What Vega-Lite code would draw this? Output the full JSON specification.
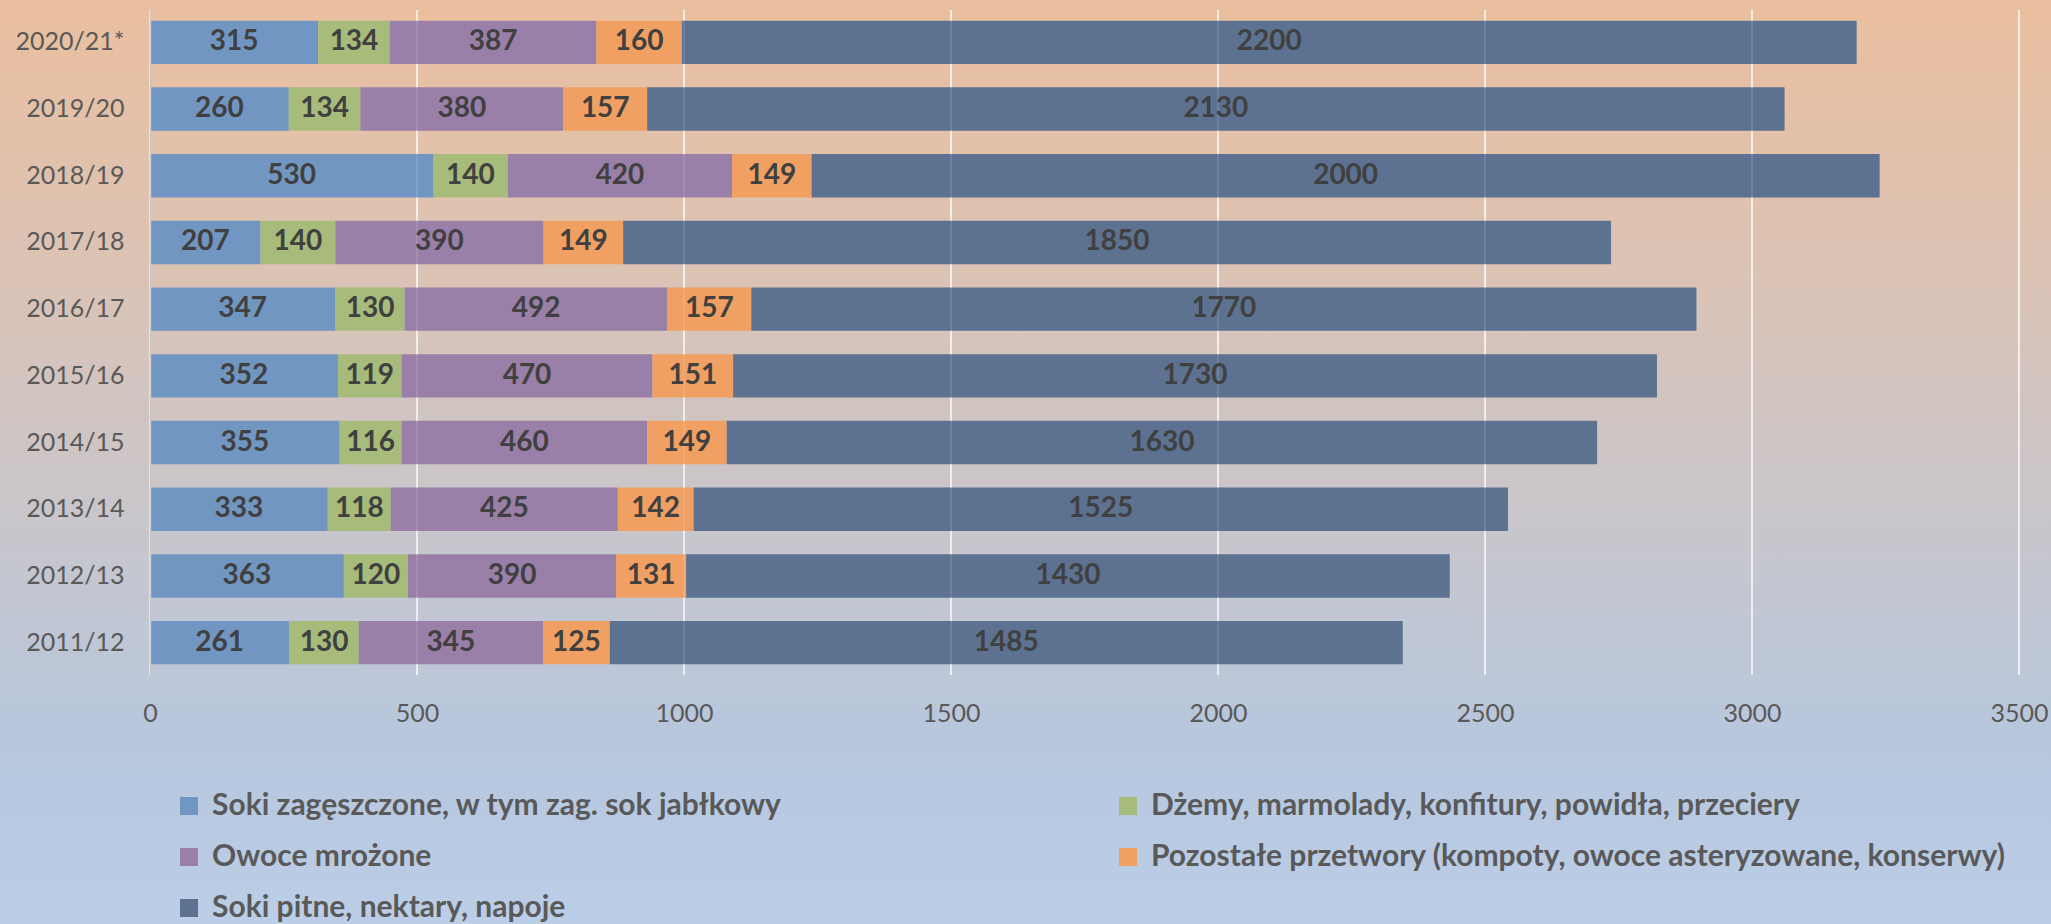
{
  "$schema": "https://vega.github.io/schema/vega-lite/v6.json",
  "width": 1869,
  "height": 665,
  "autosize": {"type": "none"},
  "padding": {"left": 150, "top": 10, "right": 32, "bottom": 249},
  "background": "#c9c6cb",
  "config": {"view": {"stroke": null}, "font": "Lato"},
  "datasets": {
    "bg": [{"a": 1}],
    "grid": [{"g": 0}, {"g": 500}, {"g": 1000}, {"g": 1500}, {"g": 2000}, {"g": 2500}, {"g": 3000}, {"g": 3500}],
    "vals": [
      {"rok": "2020/21*", "k": 1, "seria": "Soki zagęszczone, w tym zag. sok jabłkowy", "v": 315},
      {"rok": "2020/21*", "k": 2, "seria": "Dżemy, marmolady, konfitury, powidła, przeciery", "v": 134},
      {"rok": "2020/21*", "k": 3, "seria": "Owoce mrożone", "v": 387},
      {"rok": "2020/21*", "k": 4, "seria": "Pozostałe przetwory (kompoty, owoce asteryzowane, konserwy)", "v": 160},
      {"rok": "2020/21*", "k": 5, "seria": "Soki pitne, nektary, napoje", "v": 2200},
      {"rok": "2019/20", "k": 1, "seria": "Soki zagęszczone, w tym zag. sok jabłkowy", "v": 260},
      {"rok": "2019/20", "k": 2, "seria": "Dżemy, marmolady, konfitury, powidła, przeciery", "v": 134},
      {"rok": "2019/20", "k": 3, "seria": "Owoce mrożone", "v": 380},
      {"rok": "2019/20", "k": 4, "seria": "Pozostałe przetwory (kompoty, owoce asteryzowane, konserwy)", "v": 157},
      {"rok": "2019/20", "k": 5, "seria": "Soki pitne, nektary, napoje", "v": 2130},
      {"rok": "2018/19", "k": 1, "seria": "Soki zagęszczone, w tym zag. sok jabłkowy", "v": 530},
      {"rok": "2018/19", "k": 2, "seria": "Dżemy, marmolady, konfitury, powidła, przeciery", "v": 140},
      {"rok": "2018/19", "k": 3, "seria": "Owoce mrożone", "v": 420},
      {"rok": "2018/19", "k": 4, "seria": "Pozostałe przetwory (kompoty, owoce asteryzowane, konserwy)", "v": 149},
      {"rok": "2018/19", "k": 5, "seria": "Soki pitne, nektary, napoje", "v": 2000},
      {"rok": "2017/18", "k": 1, "seria": "Soki zagęszczone, w tym zag. sok jabłkowy", "v": 207},
      {"rok": "2017/18", "k": 2, "seria": "Dżemy, marmolady, konfitury, powidła, przeciery", "v": 140},
      {"rok": "2017/18", "k": 3, "seria": "Owoce mrożone", "v": 390},
      {"rok": "2017/18", "k": 4, "seria": "Pozostałe przetwory (kompoty, owoce asteryzowane, konserwy)", "v": 149},
      {"rok": "2017/18", "k": 5, "seria": "Soki pitne, nektary, napoje", "v": 1850},
      {"rok": "2016/17", "k": 1, "seria": "Soki zagęszczone, w tym zag. sok jabłkowy", "v": 347},
      {"rok": "2016/17", "k": 2, "seria": "Dżemy, marmolady, konfitury, powidła, przeciery", "v": 130},
      {"rok": "2016/17", "k": 3, "seria": "Owoce mrożone", "v": 492},
      {"rok": "2016/17", "k": 4, "seria": "Pozostałe przetwory (kompoty, owoce asteryzowane, konserwy)", "v": 157},
      {"rok": "2016/17", "k": 5, "seria": "Soki pitne, nektary, napoje", "v": 1770},
      {"rok": "2015/16", "k": 1, "seria": "Soki zagęszczone, w tym zag. sok jabłkowy", "v": 352},
      {"rok": "2015/16", "k": 2, "seria": "Dżemy, marmolady, konfitury, powidła, przeciery", "v": 119},
      {"rok": "2015/16", "k": 3, "seria": "Owoce mrożone", "v": 470},
      {"rok": "2015/16", "k": 4, "seria": "Pozostałe przetwory (kompoty, owoce asteryzowane, konserwy)", "v": 151},
      {"rok": "2015/16", "k": 5, "seria": "Soki pitne, nektary, napoje", "v": 1730},
      {"rok": "2014/15", "k": 1, "seria": "Soki zagęszczone, w tym zag. sok jabłkowy", "v": 355},
      {"rok": "2014/15", "k": 2, "seria": "Dżemy, marmolady, konfitury, powidła, przeciery", "v": 116},
      {"rok": "2014/15", "k": 3, "seria": "Owoce mrożone", "v": 460},
      {"rok": "2014/15", "k": 4, "seria": "Pozostałe przetwory (kompoty, owoce asteryzowane, konserwy)", "v": 149},
      {"rok": "2014/15", "k": 5, "seria": "Soki pitne, nektary, napoje", "v": 1630},
      {"rok": "2013/14", "k": 1, "seria": "Soki zagęszczone, w tym zag. sok jabłkowy", "v": 333},
      {"rok": "2013/14", "k": 2, "seria": "Dżemy, marmolady, konfitury, powidła, przeciery", "v": 118},
      {"rok": "2013/14", "k": 3, "seria": "Owoce mrożone", "v": 425},
      {"rok": "2013/14", "k": 4, "seria": "Pozostałe przetwory (kompoty, owoce asteryzowane, konserwy)", "v": 142},
      {"rok": "2013/14", "k": 5, "seria": "Soki pitne, nektary, napoje", "v": 1525},
      {"rok": "2012/13", "k": 1, "seria": "Soki zagęszczone, w tym zag. sok jabłkowy", "v": 363},
      {"rok": "2012/13", "k": 2, "seria": "Dżemy, marmolady, konfitury, powidła, przeciery", "v": 120},
      {"rok": "2012/13", "k": 3, "seria": "Owoce mrożone", "v": 390},
      {"rok": "2012/13", "k": 4, "seria": "Pozostałe przetwory (kompoty, owoce asteryzowane, konserwy)", "v": 131},
      {"rok": "2012/13", "k": 5, "seria": "Soki pitne, nektary, napoje", "v": 1430},
      {"rok": "2011/12", "k": 1, "seria": "Soki zagęszczone, w tym zag. sok jabłkowy", "v": 261},
      {"rok": "2011/12", "k": 2, "seria": "Dżemy, marmolady, konfitury, powidła, przeciery", "v": 130},
      {"rok": "2011/12", "k": 3, "seria": "Owoce mrożone", "v": 345},
      {"rok": "2011/12", "k": 4, "seria": "Pozostałe przetwory (kompoty, owoce asteryzowane, konserwy)", "v": 125},
      {"rok": "2011/12", "k": 5, "seria": "Soki pitne, nektary, napoje", "v": 1485}
    ]
  },
  "resolve": {"scale": {"y": "independent"}, "axis": {"y": "independent"}},
  "layer": [
    {
      "data": {"name": "bg"},
      "mark": {
        "type": "rect",
        "fill": {
          "gradient": "linear", "x1": 0, "y1": 0, "x2": 0, "y2": 1,
          "stops": [
            {"offset": 0, "color": "#ebbf9e"},
            {"offset": 0.3, "color": "#dbc3b5"},
            {"offset": 0.55, "color": "#c9c6cb"},
            {"offset": 0.8, "color": "#b6c7de"},
            {"offset": 1, "color": "#bccfe8"}
          ]
        }
      },
      "encoding": {
        "x": {"datum": -300, "type": "quantitative", "scale": {"domain": [0, 3500], "nice": false}},
        "x2": {"datum": 3600},
        "y": {"datum": 1.03, "type": "quantitative", "scale": {"domain": [0, 1], "nice": false}, "axis": null},
        "y2": {"datum": -0.4}
      }
    },
    {
      "data": {"name": "grid"},
      "mark": {"type": "rule", "color": "#ffffff", "strokeWidth": 1.5, "opacity": 0.9},
      "encoding": {
        "x": {"field": "g", "type": "quantitative", "scale": {"domain": [0, 3500], "nice": false}}
      }
    },
    {
      "data": {"name": "vals"},
      "layer": [
        {
          "mark": {"type": "bar"},
          "encoding": {
            "y": {
              "field": "rok", "type": "nominal", "sort": null,
              "scale": {"paddingInner": 0.35, "paddingOuter": 0.16},
              "axis": {
                "title": null, "ticks": false, "domainColor": "#c8c8c8", "domainWidth": 1.5, "zindex": 1,
                "labelFont": "Lato", "labelFontSize": 25, "labelColor": "#595959", "labelPadding": 26
              }
            },
            "x": {
              "field": "v", "type": "quantitative", "stack": "zero",
              "scale": {"domain": [0, 3500], "nice": false},
              "axis": {
                "title": null, "values": [0, 500, 1000, 1500, 2000, 2500, 3000, 3500], "format": "d",
                "grid": false, "domain": false, "ticks": false, "zindex": 1,
                "labelFont": "Lato", "labelFontSize": 25, "labelColor": "#595959", "labelPadding": 26,
                "labelFlush": false
              }
            },
            "color": {
              "field": "seria", "type": "nominal",
              "scale": {
                "domain": [
                  "Soki zagęszczone, w tym zag. sok jabłkowy",
                  "Dżemy, marmolady, konfitury, powidła, przeciery",
                  "Owoce mrożone",
                  "Pozostałe przetwory (kompoty, owoce asteryzowane, konserwy)",
                  "Soki pitne, nektary, napoje"
                ],
                "range": ["#7296c2", "#a7bb7b", "#9a7fa8", "#f0a062", "#5d7190"]
              },
              "legend": {
                "title": null, "orient": "none", "legendX": 24, "legendY": 781,
                "direction": "horizontal", "columns": 2, "columnPadding": 330, "rowPadding": 21,
                "symbolType": "square", "symbolSize": 324, "symbolStrokeWidth": 0, "symbolOpacity": 1,
                "labelFont": "Lato", "labelFontSize": 30, "labelFontWeight": "bold", "labelColor": "#595959",
                "labelOffset": 8, "labelLimit": 1000
              }
            },
            "order": {"field": "k", "type": "quantitative"}
          }
        },
        {
          "data": {"name": "grid"},
          "mark": {"type": "rule", "color": "#ffffff", "strokeWidth": 1.5, "opacity": 0.15},
          "encoding": {
            "x": {"field": "g", "type": "quantitative", "scale": {"domain": [0, 3500], "nice": false}}
          }
        },
        {
          "mark": {"type": "text", "font": "Lato", "fontSize": 28, "fontWeight": "bold", "color": "#404040", "baseline": "middle", "align": "center"},
          "encoding": {
            "y": {"field": "rok", "type": "nominal", "sort": null},
            "x": {"field": "v", "type": "quantitative", "stack": "zero", "bandPosition": 0.5, "scale": {"domain": [0, 3500], "nice": false}},
            "detail": {"field": "seria"},
            "order": {"field": "k", "type": "quantitative"},
            "text": {"field": "v", "type": "quantitative"}
          }
        }
      ]
    }
  ]
}
